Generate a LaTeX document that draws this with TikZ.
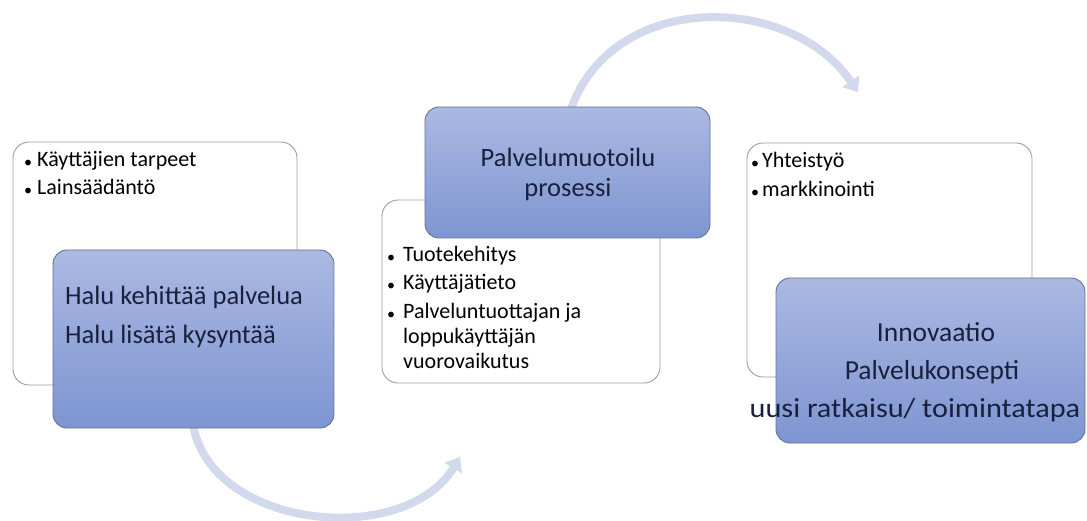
\documentclass[tikz,border=0pt]{standalone}
\usepackage{fontspec}
\setmainfont{Carlito}
\usetikzlibrary{arrows.meta}
\definecolor{arcc}{RGB}{210,217,236}
\definecolor{bluetop}{RGB}{171,185,226}
\definecolor{bluebot}{RGB}{126,149,210}
\definecolor{blueedge}{RGB}{100,115,150}
\definecolor{whiteedge}{RGB}{150,160,175}
\definecolor{darktext}{RGB}{25,32,60}
\begin{document}
\begin{tikzpicture}[x=1pt,y=-1pt,
  wbox/.style={draw=whiteedge,line width=0.9pt,fill=white,rounded corners=16pt},
  bbox/.style={draw=blueedge,line width=0.9pt,rounded corners=14pt,top color=bluetop,bottom color=bluebot},
  bul/.style={anchor=mid west,inner sep=0pt,font=\fontsize{22}{24}\selectfont,text=black},
  dot/.style={anchor=center,inner sep=0pt,font=\fontsize{16}{18}\selectfont,text=black},
  big/.style={inner sep=0pt,font=\fontsize{26.5}{30}\selectfont,text=darktext},
  bigger/.style={big,anchor=mid,font=\fontsize{27.5}{32}\selectfont},
  flow/.style={draw=arcc,line width=8pt,-{Triangle[width=20pt,length=13pt]}}]
\useasboundingbox (0,0) rectangle (1087,521);
% arcs (behind boxes)
\coordinate (a1s) at (193,425);
\coordinate (a1e) at (460,457);
\coordinate (a2s) at (570,112);
\coordinate (a2e) at (858,92);
\draw[flow] (a1s) .. controls (212,530) and (405,548) .. (a1e);
\draw[flow] (a2s) .. controls (610,-10) and (790,-8) .. (a2e);
% box 1
\path[wbox] (13,142) rectangle (297,385);
\path[bbox] (53,250) rectangle (334,428);
\node[dot] at (28,164) {•};
\node[bul] at (37,164) (t11) {Käyttäjien tarpeet};
\node[dot] at (28,192) {•};
\node[bul] at (37,192) (t12) {Lainsäädäntö};
\node[big,anchor=mid west] (t13) at (65,302) {Halu kehittää palvelua};
\node[big,anchor=mid west] (t14) at (65,341) {Halu lisätä kysyntää};
% box 2
\path[wbox] (382,200) rectangle (660,383);
\path[bbox] (425,107) rectangle (710,238);
\node[big,anchor=mid] (t21) at (568,164) {Palvelumuotoilu};
\node[big,anchor=mid] (t22) at (568,194) {prosessi};
\node[dot] at (391,259) {•};
\node[bul] (t23) at (403,259) {Tuotekehitys};
\node[dot] at (391,287) {•};
\node[bul] (t24) at (403,287) {Käyttäjätieto};
\node[dot] at (391,316) {•};
\node[bul] (t25) at (403,316) {Palveluntuottajan ja};
\node[bul] (t26) at (403,341) {loppukäyttäjän};
\node[bul] (t27) at (403,366) {vuorovaikutus};
% box 3
\path[wbox] (747,143) rectangle (1032,377);
\path[bbox] (776,278) rectangle (1085,443);
\node[dot] at (755,165) {•};
\node[bul] (t31) at (762,165) {Yhteistyö};
\node[dot] at (755,194) {•};
\node[bul] (t32) at (762,194) {markkinointi};
\node[bigger] (t33) at (936,339) {Innovaatio};
\node[bigger] (t34) at (932,377) {Palvelukonsepti};
\node[bigger] (t35) at (915,415) {\scalebox{1.1}[1]{uusi ratkaisu/ toimintatapa}};
\end{tikzpicture}
\end{document}
